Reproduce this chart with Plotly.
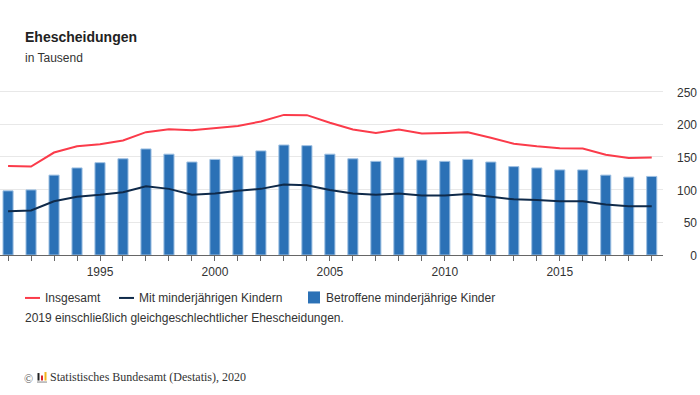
import plotly.graph_objects as go

years = list(range(1991, 2020))
insgesamt = [136, 135, 156.5, 166, 169, 175, 187.6, 192, 190.6, 194, 197, 204, 214, 213.6, 202,
             191.6, 186.5, 191.6, 185.5, 186.5, 187.6, 179, 170, 166, 163, 162.6, 153, 148, 149]
mit_kindern = [67, 68, 82, 89, 92, 96, 105, 101, 92, 94, 98, 101, 107.5, 106.5, 99.4,
               94, 92, 94, 91, 91, 93, 89, 85, 84, 82, 82, 77, 74.5, 74.5]
betroffene = [98, 99.4, 122, 133, 141, 147, 162, 154, 142, 146, 151, 159, 168, 167, 154,
              147, 143, 149, 145, 143, 146, 142, 135, 133, 130, 130, 122, 119, 120]
x_labels = [str(y) if y % 5 == 0 else "" for y in years]
y_ticks = [0, 50, 100, 150, 200, 250]

W, H = 700, 395
RED, NAVY, BLUE = "#fb3b4a", "#0f2a4a", "#2b71b6"
FONT = "Liberation Sans"
TXT = "#333333"
PLOT_TOP, PLOT_BOTTOM = 89.8, 254.6


def px(x):
    return x / W


def py(y):
    return 1 - (y - PLOT_TOP) / (PLOT_BOTTOM - PLOT_TOP)


fig = go.Figure()
fig.add_trace(go.Bar(x=years, y=betroffene, name="Betroffene minderjährige Kinder", width=0.44,
                     marker=dict(color=BLUE, line=dict(color="#9fc1e3", width=1))))
fig.add_trace(go.Scatter(x=years, y=insgesamt, name="Insgesamt", mode="lines",
                         line=dict(color=RED, width=2)))
fig.add_trace(go.Scatter(x=years, y=mit_kindern, name="Mit minderjährigen Kindern", mode="lines",
                         line=dict(color=NAVY, width=2)))

shapes = [
    dict(type="line", xref="paper", yref="paper", x0=px(25), x1=px(40), y0=py(297.5), y1=py(297.5),
         line=dict(color=RED, width=2)),
    dict(type="line", xref="paper", yref="paper", x0=px(119), x1=px(134), y0=py(297.5), y1=py(297.5),
         line=dict(color=NAVY, width=2)),
    dict(type="rect", xref="paper", yref="paper", x0=px(308), x1=px(320), y0=py(303), y1=py(291),
         fillcolor=BLUE, line=dict(width=0)),
    # logo
    dict(type="rect", xref="paper", yref="paper", x0=px(37.5), x1=px(39.5), y0=py(380), y1=py(372.5),
         fillcolor="#222222", line=dict(width=0)),
    dict(type="rect", xref="paper", yref="paper", x0=px(41), x1=px(43), y0=py(380), y1=py(375),
         fillcolor="#d9262e", line=dict(width=0)),
    dict(type="rect", xref="paper", yref="paper", x0=px(44.5), x1=px(46.5), y0=py(380), y1=py(371.5),
         fillcolor="#f2b51d", line=dict(width=0)),
    dict(type="line", xref="paper", yref="paper", x0=px(37), x1=px(47), y0=py(381.5), y1=py(381.5),
         line=dict(color="#888888", width=1)),
]


def note(x, y, text, size=12, family=FONT, color=TXT):
    return dict(xref="paper", yref="paper", x=px(x - 2), y=py(y), text=text, showarrow=False,
                xanchor="left", yanchor="middle", font=dict(size=size, family=family, color=color))


annotations = [
    note(25, 57.5, "in Tausend"),
    note(45, 298, "Insgesamt"),
    note(139, 298, "Mit minderjährigen Kindern"),
    note(326, 298, "Betroffene minderjährige Kinder"),
    note(25, 317.5, "2019 einschließlich gleichgeschlechtlicher Ehescheidungen."),
    note(24, 378, "©", size=12, family="Liberation Serif", color="#555555"),
    note(50, 376.5, "Statistisches Bundesamt (Destatis), 2020", size=12, family="Liberation Serif"),
]

fig.update_layout(
    width=W, height=H, autosize=False, showlegend=False, plot_bgcolor="white", paper_bgcolor="white",
    margin=dict(l=0, r=0, t=PLOT_TOP, b=H - PLOT_BOTTOM, pad=0), bargap=0.5,
    font=dict(family=FONT, size=12, color=TXT),
    title=dict(text="<b>Ehescheidungen</b>", x=25 / W, xanchor="left", y=1 - 37 / H, yanchor="middle",
               font=dict(size=14, family=FONT, color="#222222")),
    xaxis=dict(domain=[0, 663 / W], range=[1990.65, 2019.49], tickvals=years, ticktext=x_labels, ticks="outside",
               ticklen=5, tickcolor="#666666", tickwidth=1, showline=True, linecolor="#666666", linewidth=1,
               showgrid=False, zeroline=False, tickangle=0, ticklabelstandoff=1, tickfont=dict(size=12, color=TXT)),
    yaxis=dict(side="left", anchor="free", position=697 / W, range=[0, 252], tickvals=y_ticks, ticks="",
               showline=False, showgrid=True, gridcolor="#e8e8e8", gridwidth=1, zeroline=False,
               ticklabelshift=1, tickfont=dict(size=12, color=TXT)),
    shapes=shapes, annotations=annotations,
)
fig.write_html("out.html", config=dict(displayModeBar=False), post_script="document.body.style.margin='0';")
